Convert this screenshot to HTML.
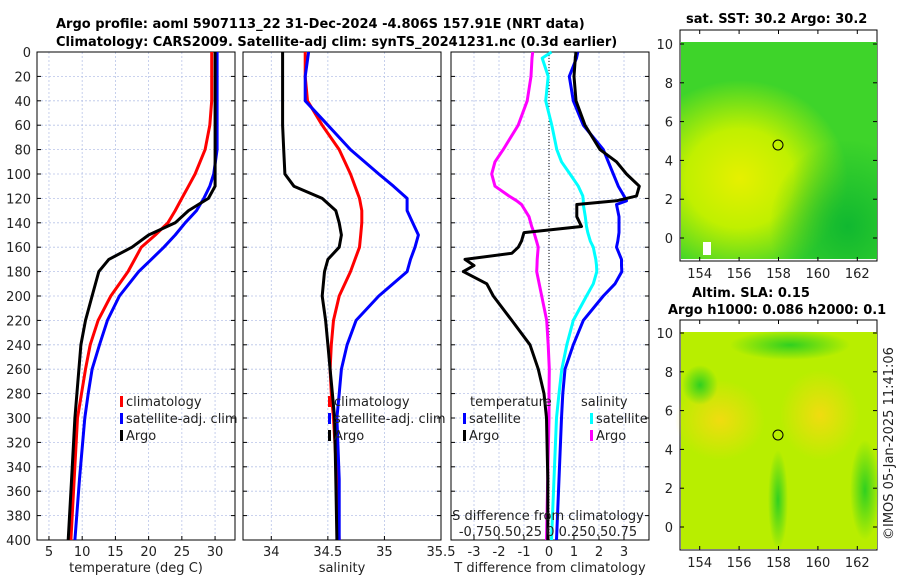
<!DOCTYPE html>
<html><head><meta charset="utf-8"><style>
body{margin:0;background:#fff;width:900px;height:580px;overflow:hidden}
svg text{font-family:"DejaVu Sans","Liberation Sans",sans-serif;font-size:13px;fill:#222}
.t{font-weight:bold;fill:#000}
</style></head><body>
<svg id="c" width="900" height="580">
<defs>
<radialGradient id="y1" cx="0.3" cy="0.55" r="0.55"><stop offset="0" stop-color="#e6f000"/><stop offset="0.5" stop-color="#c0f000"/><stop offset="1" stop-color="#c0f000" stop-opacity="0"/></radialGradient>
<radialGradient id="d1" cx="0.85" cy="0.85" r="0.4"><stop offset="0" stop-color="#10b830"/><stop offset="1" stop-color="#10b830" stop-opacity="0"/></radialGradient>
<radialGradient id="y2" cx="0.5" cy="0.5" r="0.5"><stop offset="0" stop-color="#f0dc10"/><stop offset="1" stop-color="#f0dc10" stop-opacity="0"/></radialGradient>
<radialGradient id="g2" cx="0.5" cy="0.5" r="0.5"><stop offset="0" stop-color="#30d020"/><stop offset="1" stop-color="#30d020" stop-opacity="0"/></radialGradient>
</defs>
<text class="t" x="56" y="28">Argo profile: aoml 5907113_22 31-Dec-2024 -4.806S 157.91E (NRT data)</text>
<text class="t" x="56" y="46">Climatology: CARS2009. Satellite-adj clim: synTS_20241231.nc (0.3d earlier)</text>
<g id="panels"></g>
<g>
<rect x="680" y="30" width="197" height="231" fill="#fff" stroke="#000"/>
<rect x="681" y="42" width="196" height="217" fill="#3ed42a"/>
<rect x="681" y="80" width="196" height="179" fill="url(#y1)"/>
<rect x="681" y="42" width="196" height="217" fill="url(#d1)"/>
<rect x="703" y="242" width="8" height="13" fill="#fff"/>
<circle cx="778" cy="145" r="5" fill="none" stroke="#000"/>
<text class="t" x="686" y="23">sat. SST: 30.2 Argo: 30.2</text>
</g>
<g>
<rect x="680" y="320" width="197" height="230" fill="#fff" stroke="#000"/>
<rect x="681" y="332" width="196" height="217" fill="#b8ee00"/>
<ellipse cx="720" cy="420" rx="45" ry="40" fill="url(#y2)"/>
<ellipse cx="820" cy="415" rx="40" ry="45" fill="url(#y2)"/>
<ellipse cx="790" cy="345" rx="60" ry="15" fill="url(#g2)"/>
<ellipse cx="778" cy="500" rx="10" ry="50" fill="url(#g2)"/>
<ellipse cx="865" cy="490" rx="15" ry="50" fill="url(#g2)"/>
<ellipse cx="700" cy="385" rx="18" ry="20" fill="url(#g2)"/>
<circle cx="778" cy="435" r="5" fill="none" stroke="#000"/>
<text class="t" x="692" y="297">Altim. SLA: 0.15</text>
<text class="t" x="668" y="314">Argo h1000: 0.086 h2000: 0.1</text>
</g>
<g id="maxes"></g>
<text x="0" y="0" transform="translate(893,540) rotate(-90)">©IMOS 05-Jan-2025 11:41:06</text>
</svg>
<script>
const depths=[0,20,40,60,80,100,110,120,130,140,150,160,170,180,200,220,240,260,280,300,350,400];
const tClim=[29.5,29.5,29.5,29.2,28.5,27,26,25,24,22.9,21,18.9,17.9,16.9,14.3,12.4,11.2,10.5,9.9,9.3,8.8,8.3];
const tSat=[30.3,30.3,30.3,30.3,30.3,29.8,29.2,28.3,27.2,25.5,24,22.3,20.4,18.5,15.6,13.8,12.6,11.5,10.9,10.4,9.6,8.9];
const tArgo=[30,30,30,30,30,30,30,29,26,24,20,17.5,14,12.5,11.5,10.5,9.8,9.5,9.2,8.9,8.4,7.9];
const sClim=[34.3,34.3,34.32,34.45,34.6,34.7,34.74,34.78,34.8,34.8,34.79,34.78,34.74,34.7,34.6,34.55,34.53,34.52,34.53,34.55,34.58,34.6];
const sSat=[34.33,34.3,34.3,34.5,34.7,34.95,35.08,35.2,35.2,35.25,35.3,35.27,35.23,35.2,34.95,34.75,34.67,34.62,34.6,34.58,34.6,34.6];
const sArgo=[34.1,34.1,34.1,34.1,34.11,34.12,34.2,34.45,34.57,34.6,34.62,34.6,34.5,34.47,34.45,34.48,34.5,34.52,34.54,34.56,34.57,34.58];
const dDepths=[0,5,20,40,60,80,90,100,110,118,122,125,135,143,148,155,160,165,170,175,180,190,200,220,240,260,280,300,350,400];
const dTargo=[1.08,1.05,1.0,1.08,1.44,2.04,2.7,3.1,3.61,3.5,2.7,1.11,1.11,1.3,-1.0,-1.1,-1.23,-1.49,-3.36,-3.0,-3.43,-2.49,-2.23,-1.49,-0.76,-0.43,-0.2,-0.1,-0.05,-0.05];
const dTsat=[1.15,1.1,0.81,0.97,1.37,2.17,2.37,2.57,2.77,3.0,3.1,2.7,2.8,2.8,2.8,2.75,2.7,2.8,2.9,2.9,2.91,2.64,2.17,1.37,0.97,0.64,0.55,0.5,0.4,0.3];
const dSsat=[0.025,-0.068,-0.008,-0.033,0.028,0.078,0.125,0.21,0.293,0.338,0.343,0.343,0.363,0.375,0.388,0.413,0.443,0.455,0.468,0.475,0.478,0.443,0.375,0.243,0.178,0.128,0.1,0.075,0.05,0.025];
const dSargo=[-0.163,-0.17,-0.18,-0.218,-0.308,-0.458,-0.54,-0.573,-0.54,-0.4,-0.323,-0.275,-0.2,-0.173,-0.15,-0.125,-0.108,-0.113,-0.118,-0.12,-0.123,-0.098,-0.073,-0.023,-0.008,0.003,0,0,-0.013,-0.025];
const depthTicks=[0,20,40,60,80,100,120,140,160,180,200,220,240,260,280,300,320,340,360,380,400];
const tTicks=[5,10,15,20,25,30];
const sTicks=[34,34.5,35,35.5];
const dTicks=[-3,-2,-1,0,1,2,3];
const NS='http://www.w3.org/2000/svg';
function mk(tag,attrs,parent){const e=document.createElementNS(NS,tag);for(const k in attrs)e.setAttribute(k,attrs[k]);parent.appendChild(e);return e;}
const Y0=52,Y1=540;
const yS=d=>Y0+(d/400)*(Y1-Y0);
const P=document.getElementById('panels');
function panel(name,x0,x1,lo,hi,ticks,tickLbl,xlabel,showY){
  const xS=v=>x0+(v-lo)/(hi-lo)*(x1-x0);
  const g=mk('g',{},P);
  
  
  depthTicks.forEach(d=>{const l=mk('line',{x1:x0,x2:x1,y1:yS(d),y2:yS(d),stroke:'#b8c4e8','stroke-dasharray':'2,2','stroke-width':0.8},g);
    
    mk('line',{x1:x0,x2:x0+4,y1:yS(d),y2:yS(d),stroke:'#000'},g);mk('line',{x1:x1-4,x2:x1,y1:yS(d),y2:yS(d),stroke:'#000'},g);
    if(showY){const t=mk('text',{x:x0-6,y:yS(d)+5,'text-anchor':'end'},g);t.textContent=d;
      }});
  ticks.forEach((v,i)=>{const X=xS(v);mk('line',{x1:X,x2:X,y1:Y0,y2:Y1,stroke:'#b8c4e8','stroke-dasharray':'2,2','stroke-width':0.8},g);
    mk('line',{x1:X,x2:X,y1:Y1-4,y2:Y1,stroke:'#000'},g);
    const t=mk('text',{x:X,y:Y1+16,'text-anchor':'middle'},g);t.textContent=tickLbl[i];
    });
  mk('rect',{x:x0,y:Y0,width:x1-x0,height:Y1-Y0,fill:'none',stroke:'#000'},g);
  const xl=mk('text',{x:(x0+x1)/2,y:Y1+32,'text-anchor':'middle'},g);xl.textContent=xlabel;
  
  return {g,xS};
}
function line(p,vals,col,name,scale,dep){scale=scale||1;dep=dep||depths;
  const pts=vals.map((v,i)=>p.xS(v*scale).toFixed(1)+','+yS(dep[i]).toFixed(1)).join(' ');
  const l=mk('polyline',{points:pts,fill:'none',stroke:col,'stroke-width':3,'stroke-linejoin':'round'},p.g);
  }
function legend(g,x,y,items){items.forEach((it,i)=>{mk('rect',{x:x,y:y+i*17-10,width:3,height:11,fill:it[1]},g);
  const t=mk('text',{x:x+6,y:y+i*17},g);t.textContent=it[0];});}
const p1=panel('temperature-panel',37,235,3.2,33,tTicks,tTicks,'temperature (deg C)',true);
line(p1,tClim,'#f00','climatology-temp-line');line(p1,tSat,'#00f','satellite-temp-line');line(p1,tArgo,'#000','argo-temp-line');
legend(p1.g,120,406,[['climatology','#f00'],['satellite-adj. clim','#00f'],['Argo','#000']]);
const p2=panel('salinity-panel',243,441,33.75,35.5,sTicks,['34','34.5','35','35.5'],'salinity',false);
line(p2,sClim,'#f00','climatology-sal-line');line(p2,sSat,'#00f','satellite-sal-line');line(p2,sArgo,'#000','argo-sal-line');
legend(p2.g,328,406,[['climatology','#f00'],['satellite-adj. clim','#00f'],['Argo','#000']]);
const p3=panel('difference-panel',451,649,-3.92,4.0,dTicks,dTicks,'T difference from climatology',false);
mk('line',{x1:p3.xS(0),x2:p3.xS(0),y1:Y0,y2:Y1,stroke:'#000','stroke-dasharray':'1,2'},p3.g);
line(p3,dSsat,'#0ff','sal-diff-satellite',4,dDepths);line(p3,dSargo,'#f0f','sal-diff-argo',4,dDepths);
line(p3,dTsat,'#00f','temp-diff-satellite',1,dDepths);line(p3,dTargo,'#000','temp-diff-argo',1,dDepths);
[['temperature',470,406],['salinity',581,406]].forEach(a=>{const t=mk('text',{x:a[1],y:a[2]},p3.g);t.textContent=a[0];});
legend(p3.g,463,423,[['satellite','#00f'],['Argo','#000']]);
legend(p3.g,590,423,[['satellite','#0ff'],['Argo','#f0f']]);
let t1=mk('text',{x:548,y:520,'text-anchor':'middle'},p3.g);t1.textContent='S difference from climatology';
let t2=mk('text',{x:548,y:536,'text-anchor':'middle'},p3.g);t2.textContent='-0.750.50.25 0 0.250.50.75';
const MA=document.getElementById('maxes');
const lonTicks=[154,156,158,160,162],latTicks=[0,2,4,6,8,10];
function mapAxes(top,bot,y10,y0){lonTicks.forEach(l=>{const X=680+(l-153)*19.7;
  mk('line',{x1:X,x2:X,y1:bot-4,y2:bot,stroke:'#000'},MA);mk('line',{x1:X,x2:X,y1:top,y2:top+4,stroke:'#000'},MA);
  const t=mk('text',{x:X,y:bot+17,'text-anchor':'middle'},MA);t.textContent=l;});
  latTicks.forEach(a=>{const Y=y0+(y10-y0)*a/10;mk('line',{x1:680,x2:684,y1:Y,y2:Y,stroke:'#000'},MA);mk('line',{x1:873,x2:877,y1:Y,y2:Y,stroke:'#000'},MA);
  const t=mk('text',{x:673,y:Y+5,'text-anchor':'end'},MA);t.textContent=a;});}
mapAxes(30,261,44,238);mapAxes(320,550,333,527);
</script>
</body></html>
